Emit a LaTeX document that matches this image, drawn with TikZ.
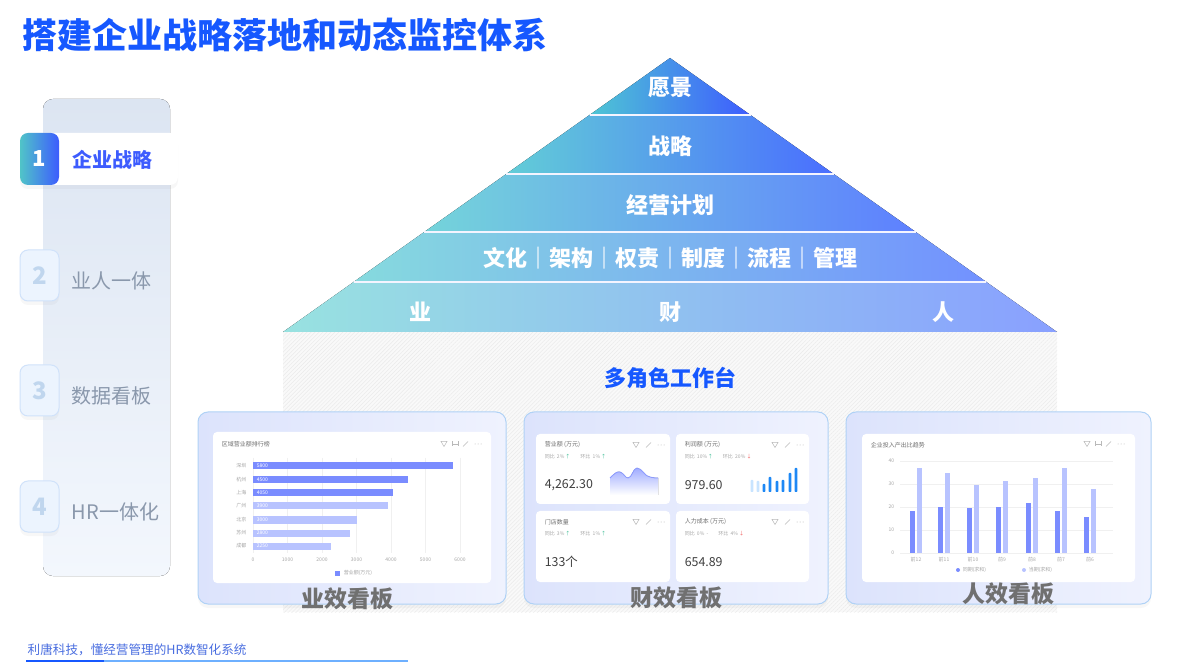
\documentclass[tikz,border=0pt]{standalone}
\usepackage{fontspec}
\setmainfont{Noto Sans CJK SC}
\usetikzlibrary{shadows,patterns.meta}

\definecolor{titleblue}{RGB}{22,88,255}
\definecolor{stepblue}{RGB}{61,92,254}
\definecolor{stepteal}{RGB}{80,196,200}
\definecolor{sidetop}{RGB}{220,229,242}
\definecolor{sidebot}{RGB}{243,247,253}
\definecolor{numfill}{RGB}{236,244,254}
\definecolor{numline}{RGB}{208,226,250}
\definecolor{numtext}{RGB}{192,214,238}
\definecolor{steptext}{RGB}{138,152,172}
\definecolor{panelA}{RGB}{220,227,252}
\definecolor{panelB}{RGB}{239,242,254}
\definecolor{panelline}{RGB}{176,210,246}
\definecolor{labelgray}{RGB}{112,112,112}
\definecolor{bardark}{RGB}{122,140,255}
\definecolor{barlight}{RGB}{184,195,255}
\definecolor{profitblue}{RGB}{30,136,245}
\definecolor{profitlight}{RGB}{200,228,255}
\definecolor{upgreen}{RGB}{64,190,150}
\definecolor{downred}{RGB}{240,90,90}
\definecolor{tinygray}{RGB}{110,110,110}
\definecolor{footblue}{RGB}{74,110,224}
\definecolor{footline}{RGB}{110,176,255}
\definecolor{areatop}{RGB}{160,172,255}
\definecolor{arealine}{RGB}{140,155,255}

\tikzset{every picture/.style={line width=0.75pt}}
\tikzset{
  softshadow/.style={drop shadow={opacity=0.06,shadow xshift=0pt,shadow yshift=-2pt}},
  numbox/.style={fill=numfill,draw=numline,line width=0.5pt,rounded corners=4pt,softshadow},
  numlabel/.style={text=numtext,font=\fontsize{12}{14}\selectfont\bfseries},
  steplabel/.style={anchor=west,inner sep=0pt,text=steptext,font=\fontsize{10}{12}\selectfont},
  pyrtext/.style={text=white,font=\fontsize{11}{13}\selectfont\bfseries},
  panel/.style={left color=panelA,right color=panelB,draw=panelline,line width=0.5pt,rounded corners=5pt,softshadow},
  paneltitle/.style={text=labelgray,font=\fontsize{11.5}{13}\selectfont\bfseries},
  card/.style={fill=white,rounded corners=2pt},
  tiny/.style={inner sep=0pt,text=tinygray,font=\fontsize{3}{3.5}\selectfont},
  tinier/.style={inner sep=0pt,text=gray!70,font=\fontsize{2.5}{3}\selectfont},
  bignum/.style={anchor=west,inner sep=0pt,text=black!75,font=\fontsize{6.2}{7}\selectfont},
  gridline/.style={draw=gray!12,line width=0.3pt},
  iconline/.style={draw=gray!55,line width=0.25pt},
}
% small card icons: filter, expand, more
\newcommand{\cardicons}[2]{%
  \draw[iconline] (#1-3,#2-2.5) -- (#1+3,#2-2.5) -- (#1,#2+2.5) -- cycle;
  \draw[iconline] (#1+10,#2+2.5) -- (#1+15,#2-2.5);
  \foreach \d in {22,25,28} \fill[gray!55] (#1+\d,#2) circle (0.5);
}

\begin{document}
\begin{tikzpicture}[x=0.5pt,y=0.5pt,yscale=-1,xscale=1]
\useasboundingbox (0,0) rectangle (1193,667);
\fill[white] (0,0) rectangle (1193,667);

% Text Node
\node[anchor=west,inner sep=0pt,text=titleblue,font=\fontsize{17.5}{20}\selectfont\bfseries] (title) at (22,35) {搭建企业战略落地和动态监控体系};

%Shape: side bar
\fill[top color=sidetop,bottom color=sidebot,rounded corners=5pt] (43,99) rectangle (170,576);

% active step
\fill[white,rounded corners=4pt,softshadow] (20,133) rectangle (178,185);
\shade[left color=stepteal,right color=stepblue,rounded corners=4pt] (20,133) rectangle (59,185);
\node[text=white,font=\fontsize{11}{13}\selectfont\bfseries] (num1) at (39.5,159) {1};
\node[steplabel,text=stepblue,font=\fontsize{10}{12}\selectfont\bfseries] (step1) at (72,160) {企业战略};

% other steps
\foreach \n/\y/\t in {2/275.5/业人一体,3/390.5/数据看板,4/506.5/HR一体化}{
  \draw[numbox] (20,\y-25.5) rectangle (59,\y+25.5);
  \node[numlabel] (num\n) at (39.5,\y) {\n};
  \node[steplabel] (step\n) at (71,\y+5) {\t};
}

%Shape: hatched stage under pyramid
\fill[gray!5] (283,332) rectangle (1057,612);
\fill[pattern={Lines[angle=45,distance=1.4pt,line width=0.25pt]},pattern color=gray!16] (283,332) rectangle (1057,612);

%Shape: pyramid bands
\fill[left color={rgb,255:red,78;green,198;blue,212},right color={rgb,255:red,62;green,92;blue,255}] (670,58) -- (750.5,115) -- (589.5,115) -- cycle;
\fill[left color={rgb,255:red,98;green,205;blue,215},right color={rgb,255:red,74;green,110;blue,255}] (589.5,115) -- (750.5,115) -- (833.8,174) -- (506.2,174) -- cycle;
\fill[left color={rgb,255:red,116;green,212;blue,218},right color={rgb,255:red,94;green,128;blue,255}] (506.2,174) -- (833.8,174) -- (915.8,232) -- (424.2,232) -- cycle;
\fill[left color={rgb,255:red,134;green,218;blue,222},right color={rgb,255:red,114;green,145;blue,255}] (424.2,232) -- (915.8,232) -- (986.4,282) -- (353.6,282) -- cycle;
\fill[left color={rgb,255:red,152;green,226;blue,224},right color={rgb,255:red,137;green,160;blue,255}] (353.6,282) -- (986.4,282) -- (1057,332) -- (283,332) -- cycle;
%Straight Lines: band gaps
\foreach \y/\a/\b in {115/589.5/750.5,174/506.2/833.8,232/424.2/915.8,282/353.6/986.4}
  \draw[white!85!blue!30,line width=1pt] (\a,\y) -- (\b,\y);

% Text Node
\node[pyrtext] (vision) at (670,88) {愿景};
\node[pyrtext] (strategy) at (670,146) {战略};
\node[pyrtext] (plan) at (670,205) {经营计划};
\node[pyrtext] (culture) at (670,258) {文化｜架构｜权责｜制度｜流程｜管理};
\node[pyrtext] (biz) at (420,312) {业};
\node[pyrtext] (fin) at (670,312) {财};
\node[pyrtext] (hr) at (943,312) {人};
\node[text=titleblue,font=\fontsize{11}{13}\selectfont\bfseries] (workbench) at (670,378) {多角色工作台};

%Shape: three boards
\draw[panel] (198,412) rectangle (506,604);
\draw[panel] (524,412) rectangle (828,604);
\draw[panel] (846,412) rectangle (1151,604);

% ---- board 1: sales ranking
\fill[card] (213,432) rectangle (491,583);
\node[tiny,anchor=west] (rankttl) at (221,444) {区域营业额排行榜};
\draw[iconline] (441,441.5) -- (447,441.5) -- (444,446.5) -- cycle;
\draw[iconline] (452,441.5) -- (452,446.5) (452,444) -- (458,444) (458,441.5) -- (458,446.5);
\draw[iconline] (463,446.5) -- (468,441.5);
\foreach \d in {475,478,481} \fill[gray!55] (\d,444) circle (0.5);
\foreach \i in {0,...,6}{
  \draw[gridline] (253+34.5*\i,458) -- (253+34.5*\i,553);
  \pgfmathtruncatemacro{\tick}{1000*\i}
  \node[tinier] (xt\i) at (253+34.5*\i,560) {\tick};
}
\foreach \v/\y/\c/\city [count=\i] in {5800/466/bardark/深圳,4500/480/bardark/杭州,4050/493/bardark/上海,3900/506/barlight/广州,3000/520/barlight/北京,2800/533/barlight/苏州,2250/546/barlight/成都}{
  \fill[\c] (253,\y-3.5) rectangle (253+\v*0.0345,\y+3.5);
  \node[tinier,text=white,anchor=west] (val\i) at (256,\y) {\v};
  \node[tinier,anchor=east] (city\i) at (247,\y) {\city};
}
\fill[bardark] (335,570.5) rectangle (340,575.5);
\node[tinier,anchor=west] (rankleg) at (343,573) {营业额(万元)};
\node[paneltitle] (bizboard) at (347,599) {业效看板};

% ---- board 2: finance cards
\fill[card] (536,434) rectangle (670,504);
\fill[card] (676,434) rectangle (809,504);
\fill[card] (536,511) rectangle (670,582);
\fill[card] (676,511) rectangle (809,582);
\cardicons{636}{445}
\cardicons{775}{445}
\cardicons{636}{522}
\cardicons{775}{522}
\node[tiny,anchor=west] (revttl) at (544,445) {营业额 (万元)};
\node[tinier,anchor=west] (revcmp) at (544,457) {同比\ \ 2\%\ \textcolor{upgreen}{↑}\qquad 环比\ \ 1\%\ \textcolor{upgreen}{↑}};
\node[bignum] (revval) at (544,485) {4,262.30};
\fill[top color=areatop,bottom color=white] (610,495) -- (610,478) .. controls (614,474) and (617,471) .. (620,472) .. controls (624,473) and (625,478) .. (628,478) .. controls (632,478) and (633,468) .. (637,468) .. controls (642,468) and (645,477) .. (650,477) .. controls (653,478) and (656,478) .. (658,478) -- (658,495) -- cycle;
\draw[arealine,line width=0.4pt] (610,478) .. controls (614,474) and (617,471) .. (620,472) .. controls (624,473) and (625,478) .. (628,478) .. controls (632,478) and (633,468) .. (637,468) .. controls (642,468) and (645,477) .. (650,477) .. controls (653,478) and (656,478) .. (658,478);

\node[tiny,anchor=west] (prottl) at (684,445) {利润额 (万元)};
\node[tinier,anchor=west] (procmp) at (684,457) {同比\ \ 10\%\,\textcolor{upgreen}{↑}\qquad 环比\ \ 20\%\ \textcolor{downred}{↓}};
\node[bignum] (proval) at (684,485) {979.60};
\foreach \x/\t/\c in {752/480/profitlight,758/481/profitlight,764/484/profitblue,770/477/profitblue,777/481/profitblue,783/480/profitblue,790/473/profitblue,796/468/profitblue}
  \fill[\c,rounded corners=0.4pt] (\x-1.4,492) rectangle (\x+1.4,\t);

\node[tiny,anchor=west] (shopttl) at (544,522) {门店数量};
\node[tinier,anchor=west] (shopcmp) at (544,534) {同比\ \ 3\%\ \textcolor{upgreen}{↑}\qquad 环比\ \ 1\%\ \textcolor{upgreen}{↑}};
\node[bignum] (shopval) at (544,562) {133个};

\node[tiny,anchor=west] (costttl) at (684,522) {人力成本 (万元)};
\node[tinier,anchor=west] (costcmp) at (684,534) {同比\ \ 0\%\ \ -\qquad 环比\ \ 4\%\ \textcolor{downred}{↓}};
\node[bignum] (costval) at (684,562) {654.89};
\node[paneltitle] (finboard) at (676,598) {财效看板};

% ---- board 3: input-output trend
\fill[card] (862,434) rectangle (1135,582);
\node[tiny,anchor=west] (trendttl) at (870,445) {企业投入产出比趋势};
\draw[iconline] (1084,441.5) -- (1090,441.5) -- (1087,446.5) -- cycle;
\draw[iconline] (1095,441.5) -- (1095,446.5) (1095,444) -- (1101,444) (1101,441.5) -- (1101,446.5);
\draw[iconline] (1106,446.5) -- (1111,441.5);
\foreach \d in {1118,1121,1124} \fill[gray!55] (\d,444) circle (0.5);
\foreach \v [count=\i] in {0,10,20,30,40}{
  \draw[gridline] (900,553-2.3*\v) -- (1113,553-2.3*\v);
  \node[tinier,anchor=east] (yt\i) at (895,553-2.3*\v) {\v};
}
\foreach \c/\a/\b/\m [count=\i] in {916/18.3/37/前12,944/20/34.8/前11,973/19.5/29.6/前10,1002/20/31.3/前9,1032/21.7/32.6/前8,1061/18.3/37/前7,1090/15.7/27.8/前6}{
  \fill[bardark] (\c-6,553) rectangle (\c-1,553-2.3*\a);
  \fill[barlight] (\c+0.8,553) rectangle (\c+5.5,553-2.3*\b);
  \node[tinier] (mon\i) at (\c,560) {\m};
}
\fill[bardark] (958,570) circle (2);
\node[tinier,anchor=west] (legsame) at (962,570) {同期(求和)};
\fill[barlight] (1024,570) circle (2);
\node[tinier,anchor=west] (legcur) at (1028,570) {当期(求和)};
\node[paneltitle] (hrboard) at (1008,594) {人效看板};

% footer
\node[anchor=west,inner sep=0pt,text=footblue,font=\fontsize{6.3}{7.5}\selectfont] (slogan) at (27,650) {利唐科技，懂经营管理的HR数智化系统};
\draw[footline,line width=0.6pt] (26,661) -- (408,661);
\draw[titleblue,line width=1pt] (26,661) -- (104,661);

\end{tikzpicture}
\end{document}
